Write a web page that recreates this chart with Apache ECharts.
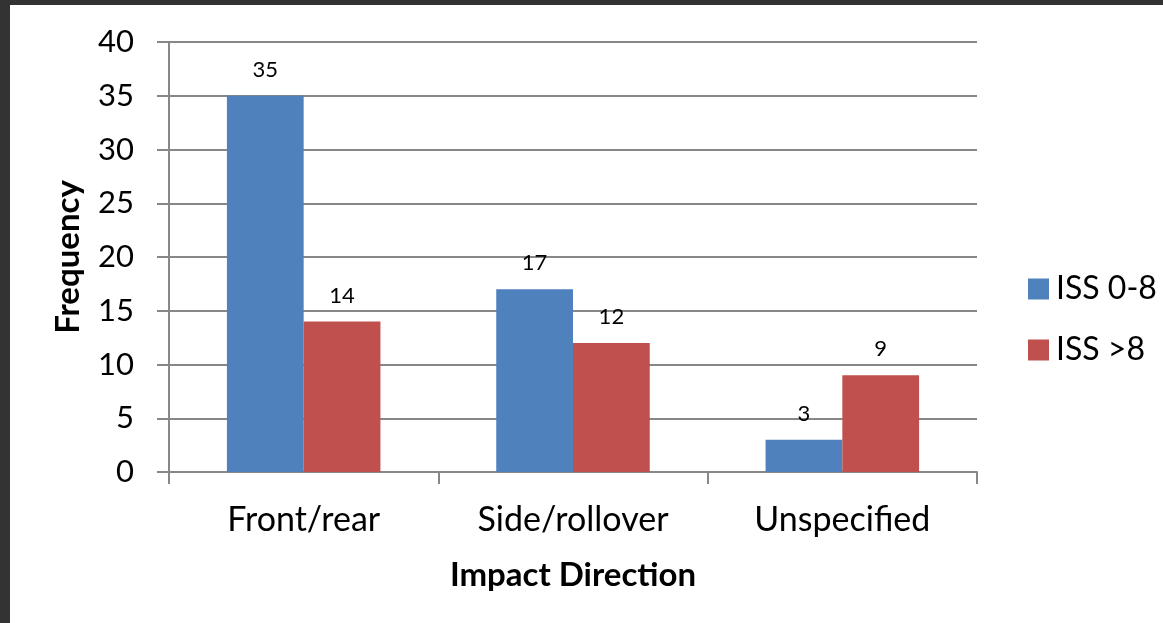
<!DOCTYPE html>
<html>
<head>
<meta charset="utf-8">
<script src="https://cdn.jsdelivr.net/npm/echarts@6/dist/echarts.min.js"></script>
<style>
  html, body { margin: 0; padding: 0; background: #333333; width: 1163px; height: 623px; overflow: hidden; }
  #chart { position: absolute; left: 10px; top: 5px; width: 1153px; height: 618px; background: #ffffff; }
</style>
</head>
<body>
<div id="chart"></div>
<script>
// Impact direction categories and frequency counts per ISS group
const categories = ['Front/rear', 'Side/rollover', 'Unspecified'];
const iss0to8 = [35, 17, 3];
const issOver8 = [14, 12, 9];
const yTicks = { min: 0, max: 40, interval: 5 };

const FONT = 'Lato, "Open Sans", sans-serif';
const gridColor = '#878787';

const chart = echarts.init(document.getElementById('chart'), null, { renderer: 'canvas' });

const labelStyle = {
  show: true,
  position: 'top',
  distance: 15,
  fontFamily: FONT,
  fontSize: 22,
  color: '#000'
};

chart.setOption({
  animation: false,
  textStyle: { fontFamily: FONT },
  grid: { left: 159, top: 37, width: 808, height: 430, containLabel: false },
  legend: {
    orient: 'vertical',
    left: 1013,
    top: 263,
    itemWidth: 21,
    itemHeight: 21,
    itemGap: 29,
    icon: 'rect',
    textStyle: { fontFamily: FONT, fontSize: 32, color: '#000', padding: [0, 0, 0, 2] },
    data: ['ISS 0-8', 'ISS >8']
  },
  xAxis: {
    type: 'category',
    data: categories,
    name: 'Impact Direction',
    nameLocation: 'middle',
    nameGap: 87,
    nameTextStyle: { fontFamily: FONT, fontSize: 33, fontWeight: 'bold', color: '#000' },
    axisLine: { lineStyle: { color: gridColor, width: 2 } },
    axisTick: { show: true, length: 12, lineStyle: { color: gridColor, width: 2 } },
    axisLabel: { margin: 31, fontFamily: FONT, fontSize: 34, color: '#000' }
  },
  yAxis: {
    type: 'value',
    min: yTicks.min,
    max: yTicks.max,
    interval: yTicks.interval,
    name: 'Frequency',
    nameLocation: 'middle',
    nameGap: 84,
    nameRotate: 90,
    nameTextStyle: { fontFamily: FONT, fontSize: 33, fontWeight: 'bold', color: '#000' },
    axisLine: { show: true, lineStyle: { color: gridColor, width: 2 } },
    axisTick: { show: true, length: 12, lineStyle: { color: gridColor, width: 2 } },
    axisLabel: { margin: 35, fontFamily: FONT, fontSize: 31, color: '#000' },
    splitLine: { show: true, lineStyle: { color: gridColor, width: 2 } }
  },
  series: [
    {
      name: 'ISS 0-8',
      type: 'bar',
      data: iss0to8,
      barGap: '0%',
      barCategoryGap: '43%',
      itemStyle: { color: '#4f81bd' },
      label: labelStyle
    },
    {
      name: 'ISS >8',
      type: 'bar',
      data: issOver8,
      barGap: '0%',
      barCategoryGap: '43%',
      itemStyle: { color: '#c0504d' },
      label: labelStyle
    }
  ]
});
</script>
</body>
</html>
